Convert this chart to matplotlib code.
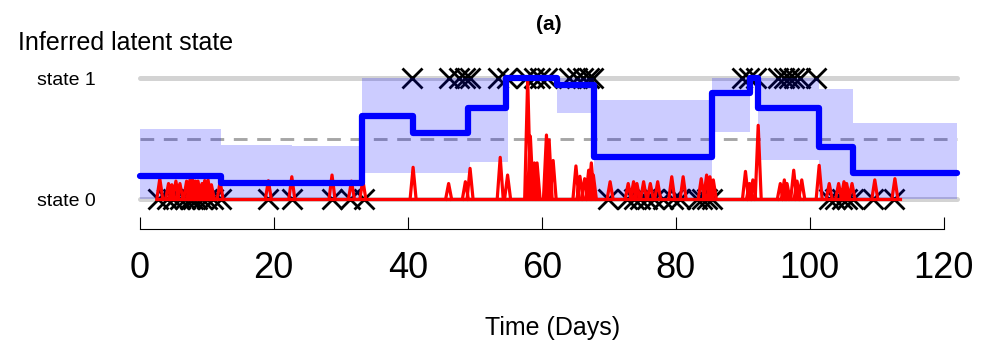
import numpy as np
import matplotlib
matplotlib.use("Agg")
import matplotlib.pyplot as plt

plt.rcParams['font.family'] = ['Liberation Sans', 'DejaVu Sans']

# posterior mean of latent state (step function)
step_edges = [0, 12.2, 33.2, 40.8, 49.0, 54.7, 62.2, 67.8, 85.4, 91.1, 92.3, 101.3, 106.4, 121.9]
step_mean = [0.195, 0.132, 0.687, 0.544, 0.75, 1.0, 0.94, 0.35, 0.88, 1.0, 0.755, 0.43, 0.22]

# credible band
band_edges = [0, 12.2, 22.7, 33.2, 49.3, 54.9, 62.2, 67.8, 85.4, 91.1, 92.3, 101.3, 106.4, 121.9]
band_lo = [0, 0, 0, 0.215, 0.31, 0.99, 0.71, 0, 0.557, 0.99, 0.324, 0, 0]
band_hi = [0.58, 0.447, 0.44, 1.0, 1.0, 1.0, 1.0, 0.815, 1.0, 1.0, 1.0, 0.907, 0.626]

# events classified to state 1 / state 0
state1_days = [40.6, 46.1, 47.6, 48.6, 49.3, 53.5, 54.8, 57.6, 58.8, 59.8, 60.8,
               64.0, 65.2, 66.2, 67.0, 67.6, 89.9, 90.9, 92.0, 95.2, 96.1, 96.9,
               97.7, 98.6, 101.0]
state0_days = [2.8, 4.0, 5.0, 6.0, 6.8, 7.5, 8.0, 8.5, 9.3, 10.0, 11.0, 12.2,
               19.2, 22.7, 28.7, 31.4, 33.4, 69.9, 72.7, 73.7, 74.7, 75.7, 76.7,
               78.1, 79.6, 80.6, 83.1, 83.9, 84.6, 85.4, 102.8, 103.8, 104.8,
               105.5, 106.5, 109.5, 112.5]

# intensity peaks (day, height)
peak_days = [3.0, 4.3, 4.8, 5.4, 6.0, 7.0, 7.5, 7.9, 8.3, 8.7, 9.3, 9.7, 10.2, 10.7,
             12.0, 19.2, 22.7, 28.7, 31.6, 33.3, 40.8, 46.1, 48.6, 49.3, 53.8, 54.9,
             57.9, 58.3, 58.9, 59.3, 60.7, 61.1, 61.7, 65.1, 65.7, 66.4, 67.0, 67.4,
             67.7, 70.2, 72.9, 73.7, 74.2, 75.2, 76.2, 77.3, 79.4, 81.1, 83.8, 84.6,
             85.1, 85.6, 90.4, 91.0, 91.5, 92.3, 95.6, 96.2, 96.6, 97.6, 98.1, 98.8,
             101.4, 102.9, 104.3, 105.1, 105.5, 106.3, 109.7, 112.7]
peak_vals = [0.17, 0.13, 0.12, 0.15, 0.13, 0.15, 0.16, 0.16, 0.15, 0.15, 0.13, 0.155,
             0.16, 0.12, 0.145, 0.153, 0.186, 0.2, 0.15, 0.16, 0.264, 0.13, 0.145,
             0.255, 0.346, 0.2, 1.0, 0.52, 0.3, 0.3, 0.53, 0.49, 0.32, 0.275, 0.19,
             0.17, 0.24, 0.3, 0.2, 0.145, 0.13, 0.145, 0.13, 0.145, 0.13, 0.145,
             0.186, 0.186, 0.17, 0.2, 0.186, 0.16, 0.23, 0.13, 0.16, 0.61, 0.13,
             0.16, 0.13, 0.24, 0.15, 0.16, 0.28, 0.13, 0.13, 0.145, 0.13, 0.13,
             0.16, 0.17]

x_ticks = [0, 20, 40, 60, 80, 100, 120]

fig = plt.figure(figsize=(10, 3.5), dpi=100)
ax = fig.add_axes([0.1, 0.3143, 0.88, 0.5714])
ax.set_xlim(-5.925, 125.4)
ax.set_ylim(-0.3355, 1.3133)

# reference lines
for lvl in (0, 1):
    ax.plot([0, 121.9], [lvl, lvl], color='#d3d3d3', lw=3.6,
            solid_capstyle='round', zorder=1)
ax.plot([0, 121.9], [0.5, 0.5], color='#a6a6a6', lw=2.1,
        dashes=(4.7, 3.3), zorder=1)

# event markers
ax.plot(state1_days, np.ones(len(state1_days)), 'x', color='black', ms=14, mew=2, zorder=2)
ax.plot(state0_days, np.zeros(len(state0_days)), 'x', color='black', ms=14, mew=2, zorder=2)

# credible band
ax.stairs(band_hi, band_edges, baseline=band_lo, fill=True, color='blue',
          alpha=0.2, lw=0, zorder=3)

# intensity spikes
w = 0.45
sx, sy = [], []
for t, h in zip(peak_days, peak_vals):
    sx += [t - w, t, t + w, np.nan]
    sy += [0, h, 0, np.nan]
ax.plot([peak_days[0] - w, peak_days[-1] + 0.8], [0, 0], color='red', lw=2.3, zorder=4)
ax.plot(sx, sy, color='red', lw=2.3, solid_joinstyle='round', zorder=4)

# posterior mean
ax.stairs(step_mean, step_edges, baseline=None, color='blue', lw=4.5,
          joinstyle='round', capstyle='round', zorder=5)

# axes styling
for s in ('top', 'right', 'left'):
    ax.spines[s].set_visible(False)
ax.spines['bottom'].set_position(('data', -0.245))
ax.spines['bottom'].set_bounds(0, 120)
ax.spines['bottom'].set_linewidth(0.8)
ax.set_xticks(x_ticks)
ax.set_xticklabels([str(v) for v in x_ticks])
ax.tick_params(axis='x', direction='in', length=8.6, width=0.8, labelsize=26, pad=16)
ax.set_yticks([0, 1])
ax.set_yticklabels(['state 0', 'state 1'])
ax.tick_params(axis='y', length=0, labelsize=14, pad=3)

fig.text(0.018, 1 - 43 / 350, 'Inferred latent state', fontsize=18, ha='left', va='center')
fig.text(0.549, 1 - 25 / 350, '(a)', fontsize=15, fontweight='bold', ha='center', va='center')
fig.text(0.5525, 1 - 328 / 350, 'Time (Days)', fontsize=18, ha='center', va='center')

fig.savefig('out.png', dpi=100)
